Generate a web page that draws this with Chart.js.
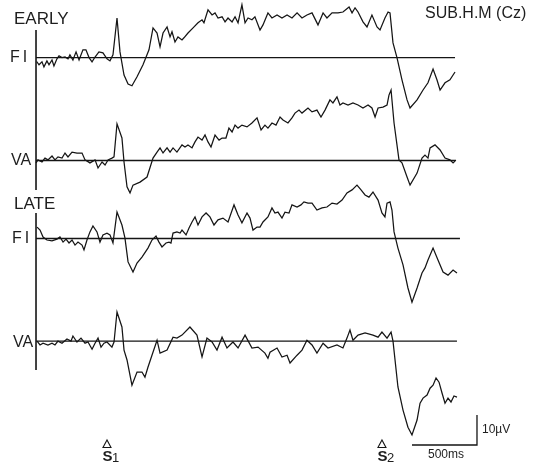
<!DOCTYPE html>
<html lang="en">
<head>
<meta charset="UTF-8">
<title>SUB.H.M (Cz)</title>
<script src="https://cdn.jsdelivr.net/npm/chart.js"></script>
<style>
    body { margin: 0; background: #ffffff; }
    #wrap { position: relative; width: 539px; height: 465px; }
</style>
</head>
<body>
<div id="wrap">
    <canvas id="eeg" width="539" height="465"></canvas>
</div>
<script>
    // traces: [time in ms from S1, amplitude in µV (drawn upward)]
    const earlyFI = [[-541,-1.3],[-523,-2.4],[-500,-1.4],[-485,-3.1],[-462,-1.1],[-446,-2.4],[-423,-0.8],[-408,-2.8],
        [-385,-0.4],[-369,0.6],[-346,0],[-323,0.2],[-300,-0.4],[-285,0.9],[-262,-0.8],[-238,1.9],[-215,-0.8],[-185,2.6],
        [-162,2.6],[-138,0],[-115,-1.4],[-92,0.2],[-62,1.9],[-31,1.6],[0,-0.4],[23,-1.1],[46,0.9],[77,13.2],[100,1.9],
        [131,-5.8],[162,-8.8],[192,-9.4],[231,-6.4],[277,-2.4],[323,2.6],[354,9.9],[385,8.2],[408,3.6],[431,8.2],
        [462,10.2],[485,6.9],[500,8.6],[523,5.2],[546,6.9],[577,5.9],[592,6.6],[623,8.2],[662,9.9],[700,11.6],[731,12.6],
        [746,11.6],[777,15.9],[808,14.2],[831,14.9],[854,13.2],[885,13.6],[908,11.9],[931,13.2],[962,11.9],[985,13.6],
        [1008,11.6],[1038,17.6],[1062,11.6],[1085,13.2],[1115,12.6],[1138,13.6],[1177,9.2],[1200,10.9],[1238,14.9],
        [1269,13.2],[1308,14.2],[1346,13.2],[1385,14.2],[1423,13.2],[1462,14.9],[1500,13.2],[1538,14.2],[1577,14.9],
        [1623,10.9],[1662,14.9],[1692,13.2],[1731,14.9],[1777,14.9],[1815,15.2],[1862,16.9],[1885,14.9],[1908,16.6],
        [1931,15.2],[1969,11.9],[2000,10.2],[2038,14.2],[2077,10.2],[2100,9.2],[2138,13.2],[2162,15.2],[2177,14.9],
        [2200,4.9],[2231,-0.1],[2269,-7.4],[2308,-14.1],[2331,-16.8],[2385,-14.1],[2431,-10.8],[2469,-8.4],[2508,-3.8],
        [2538,-7.4],[2562,-10.8],[2600,-8.4],[2638,-7.4],[2677,-4.8]];
    const earlyVA = [[-546,-0.8],[-531,0.2],[-500,-0.5],[-477,0.8],[-454,0.2],[-423,1.5],[-400,0.2],[-377,1.2],[-346,0.8],
        [-323,2.5],[-300,1.2],[-269,2.8],[-231,2.5],[-192,2.5],[-169,0.2],[-131,-0.8],[-92,0.2],[-69,-2.5],[-38,-0.5],
        [-15,-1.5],[8,0.2],[38,0.8],[54,1.2],[77,12.2],[115,7.5],[131,-0.5],[154,-8.8],[177,-10.8],[200,-8.2],[254,-7.2],
        [308,-5.5],[354,0.8],[385,2.8],[408,4.2],[431,2.5],[462,4.2],[485,2.8],[508,4.2],[538,2.8],[577,5.2],[600,4.5],
        [623,5.2],[654,4.2],[677,6.2],[700,7.8],[731,6.8],[754,8.5],[777,6.2],[800,4.5],[831,8.5],[862,6.8],[885,7.5],
        [915,7.5],[938,10.8],[962,9.5],[985,11.8],[1008,10.8],[1038,11.8],[1077,11.2],[1115,12.5],[1154,14.2],
        [1185,10.2],[1215,11.8],[1238,10.8],[1269,12.5],[1300,11.8],[1331,14.5],[1354,13.5],[1392,12.5],[1423,14.2],
        [1446,15.8],[1477,16.8],[1500,15.8],[1546,17.5],[1577,16.2],[1615,16.8],[1646,14.5],[1677,16.8],[1715,20.2],
        [1738,19.2],[1769,21.2],[1792,18.5],[1815,19.2],[1854,18.5],[1892,19.2],[1931,18.5],[1969,17.5],[2008,18.5],
        [2038,17.5],[2062,14.5],[2085,17.5],[2123,17.8],[2154,18.5],[2169,21.8],[2185,23.5],[2208,12.5],[2246,0.2],
        [2269,-0.8],[2308,-5.5],[2331,-8.2],[2385,-4.2],[2423,0.8],[2446,1.8],[2469,0.8],[2485,4.2],[2523,5.2],
        [2562,3.5],[2600,0.8],[2638,0.2],[2662,-0.8],[2677,-0.2]];
    const lateFI = [[-538,3.8],[-515,2.8],[-492,0.5],[-462,-0.5],[-423,-0.8],[-385,-0.2],[-362,0.5],[-338,-1.2],
        [-315,-0.2],[-292,-1.5],[-269,-0.5],[-246,-2.2],[-223,-1.2],[-192,-2.2],[-177,-3.8],[-154,-0.5],[-131,2.2],
        [-108,4.2],[-77,2.2],[-54,-1.2],[-31,1.2],[0,1.8],[23,1.2],[46,-1.5],[77,8.8],[115,4.5],[138,0.2],[162,-7.8],
        [200,-11.2],[231,-8.2],[269,-6.2],[315,-3.2],[346,-0.5],[377,0.8],[400,-1.2],[423,-2.8],[454,-1.5],[477,-1.2],
        [492,-1.5],[508,1.8],[538,2.2],[562,1.8],[577,2.8],[608,1.2],[631,3.5],[654,5.5],[677,7.2],[700,4.5],[731,7.2],
        [762,8.5],[792,7.2],[823,4.5],[854,6.2],[892,6.8],[931,5.5],[977,11.2],[1008,7.8],[1038,5.2],[1077,8.5],
        [1100,6.8],[1123,2.8],[1154,3.8],[1177,3.8],[1200,5.5],[1238,7.2],[1269,10.2],[1292,8.5],[1315,8.8],[1346,6.8],
        [1369,8.8],[1400,8.5],[1423,11.2],[1462,10.5],[1492,11.2],[1515,12.2],[1546,11.8],[1577,11.8],[1615,9.5],
        [1654,10.2],[1692,10.5],[1731,11.8],[1769,11.5],[1808,12.8],[1846,15.2],[1885,16.2],[1923,17.8],[1954,16.2],
        [1985,14.5],[2015,13.8],[2046,15.5],[2085,12.8],[2115,8.5],[2138,7.2],[2154,11.8],[2177,12.2],[2192,9.5],
        [2208,2.2],[2238,-3.2],[2277,-8.8],[2315,-16.5],[2346,-21.2],[2385,-16.5],[2423,-11.5],[2446,-9.8],[2469,-7.2],
        [2508,-3.2],[2546,-7.2],[2585,-11.2],[2623,-12.2],[2662,-10.5],[2692,-11.5]];
    const lateVA = [[-538,0],[-515,-1.3],[-492,-0.7],[-454,-1.3],[-423,-0.7],[-400,-1.3],[-377,0],[-346,-0.7],[-308,0.7],
        [-277,0],[-262,1.7],[-231,-0.3],[-200,1],[-169,-0.7],[-146,-0.3],[-115,-2.7],[-92,-0.7],[-69,1],[-46,-2],
        [-23,-0.7],[0,-0.3],[38,-2],[54,-0.3],[77,9.7],[115,4.7],[131,-3],[154,-6.3],[192,-14.7],[231,-10.3],[269,-10.3],
        [292,-12],[315,-8.7],[346,-4.7],[385,0.3],[408,-4],[462,-3],[508,1.3],[538,1],[577,2],[638,4.7],[692,2],
        [731,-5.3],[769,1],[808,-0.3],[846,-3],[885,1.3],[923,-2.3],[969,-0.3],[1008,-2.3],[1062,2],[1115,-2.3],
        [1162,-2],[1215,-4],[1238,-5.7],[1254,-3.7],[1308,-2.3],[1346,-5.3],[1385,-4.7],[1408,-7.3],[1462,-4.7],
        [1500,-3],[1538,0.3],[1577,-1.3],[1615,-4],[1662,-0.7],[1700,-2.3],[1769,-1.3],[1815,-2.3],[1846,1],[1869,3.7],
        [1892,0.3],[1931,2],[1985,2.7],[2046,2],[2085,1.3],[2115,3],[2154,1],[2185,3],[2200,0],[2238,-15.3],[2277,-23],
        [2315,-28.7],[2346,-31.3],[2385,-26.3],[2408,-20.7],[2431,-19],[2462,-18],[2485,-15.7],[2508,-14.7],
        [2531,-12.3],[2554,-13.7],[2577,-17.3],[2600,-20.7],[2623,-19],[2646,-20.3],[2669,-18.3],[2692,-18.7]];

    const traceNames = ['FI', 'VA', 'FI', 'VA'];
    const groupNames = ['EARLY', 'LATE'];
    const stimLabels = ['S', 'S'];
    const stimSubs = ['1', '2'];
    const stimTimes = [0, 2115];
    const scaleBarMs = 500;
    const scaleBarUv = 10;

    // layout (µV units on the shared y scale, 1 µV = 3 px)
    const offsets = [135.8, 101.5, 75.5, 41.3];
    const baseEnds = [[-546, 2677], [-546, 2685], [-546, 2715], [-546, 2692]];
    const traces = [earlyFI, earlyVA, lateFI, lateVA];
    const ink = '#151515';

    const datasets = [];
    traces.forEach((tr, i) => {
        datasets.push({
            data: tr.map(([t, v]) => ({ x: t, y: v + offsets[i] })),
            borderColor: ink, borderWidth: 1.25, pointRadius: 0, tension: 0
        });
        datasets.push({
            data: baseEnds[i].map(t => ({ x: t, y: offsets[i] })),
            borderColor: ink, borderWidth: 1.3, pointRadius: 0
        });
    });

    const overlay = {
        id: 'overlay',
        afterDraw(chart) {
            const ctx = chart.ctx;
            const xs = chart.scales.x, ys = chart.scales.y;
            ctx.save();
            ctx.strokeStyle = ink;
            ctx.fillStyle = '#1e1e1e';

            // vertical axis lines
            const ax = xs.getPixelForValue(-546);
            ctx.lineWidth = 1.6;
            [[145, 91.7], [84, 31.7]].forEach(([a, b]) => {
                ctx.beginPath();
                ctx.moveTo(ax, ys.getPixelForValue(a));
                ctx.lineTo(ax, ys.getPixelForValue(b));
                ctx.stroke();
            });

            // labels
            ctx.textBaseline = 'middle';
            ctx.font = '17px "Liberation Sans", Arial, sans-serif';
            ctx.fillText(groupNames[0], 14, 19);
            ctx.fillText(groupNames[1], 14, 204);
            ctx.font = '16px "Liberation Sans", Arial, sans-serif';
            ctx.letterSpacing = '3px';
            ctx.fillText(traceNames[0], 10, 58);
            ctx.fillText(traceNames[2], 12, 239);
            ctx.letterSpacing = '0px';
            ctx.fillText(traceNames[1], 11, 161);
            ctx.fillText(traceNames[3], 13, 343);
            ctx.font = '16px "Liberation Sans", Arial, sans-serif';
            ctx.fillText('SUB.H.M (Cz)', 425, 14);

            // stimulus markers
            stimTimes.forEach((t, i) => {
                const x = xs.getPixelForValue(t);
                ctx.lineWidth = 1.1;
                ctx.beginPath();
                ctx.moveTo(x, 440);
                ctx.lineTo(x - 4, 447.5);
                ctx.lineTo(x + 4, 447.5);
                ctx.closePath();
                ctx.stroke();
                ctx.font = 'bold 15px "Liberation Sans", Arial, sans-serif';
                ctx.fillText(stimLabels[i], x - 4.5, 457);
                ctx.font = '13px "Liberation Sans", Arial, sans-serif';
                ctx.fillText(stimSubs[i], x + 5, 458);
            });

            // scale bar
            const bx = xs.getPixelForValue(2846);
            const bx0 = xs.getPixelForValue(2846 - scaleBarMs);
            const by = ys.getPixelForValue(6.67);
            const by1 = ys.getPixelForValue(6.67 + scaleBarUv);
            ctx.lineWidth = 1.3;
            ctx.beginPath();
            ctx.moveTo(bx0, by);
            ctx.lineTo(bx, by);
            ctx.lineTo(bx, by1);
            ctx.stroke();
            ctx.font = '12px "Liberation Sans", Arial, sans-serif';
            ctx.fillText(scaleBarUv + 'µV', bx + 5, 430);
            ctx.fillText(scaleBarMs + 'ms', bx0 + 16, 455);
            ctx.restore();
        }
    };

    new Chart(document.getElementById('eeg'), {
        type: 'line',
        data: { datasets },
        options: {
            responsive: false,
            devicePixelRatio: 1,
            animation: false,
            layout: { padding: 0 },
            plugins: { legend: { display: false }, tooltip: { enabled: false } },
            scales: {
                x: { type: 'linear', display: false, min: -823, max: 3323 },
                y: { display: false, min: 0, max: 155 }
            }
        },
        plugins: [overlay]
    });
</script>
</body>
</html>
